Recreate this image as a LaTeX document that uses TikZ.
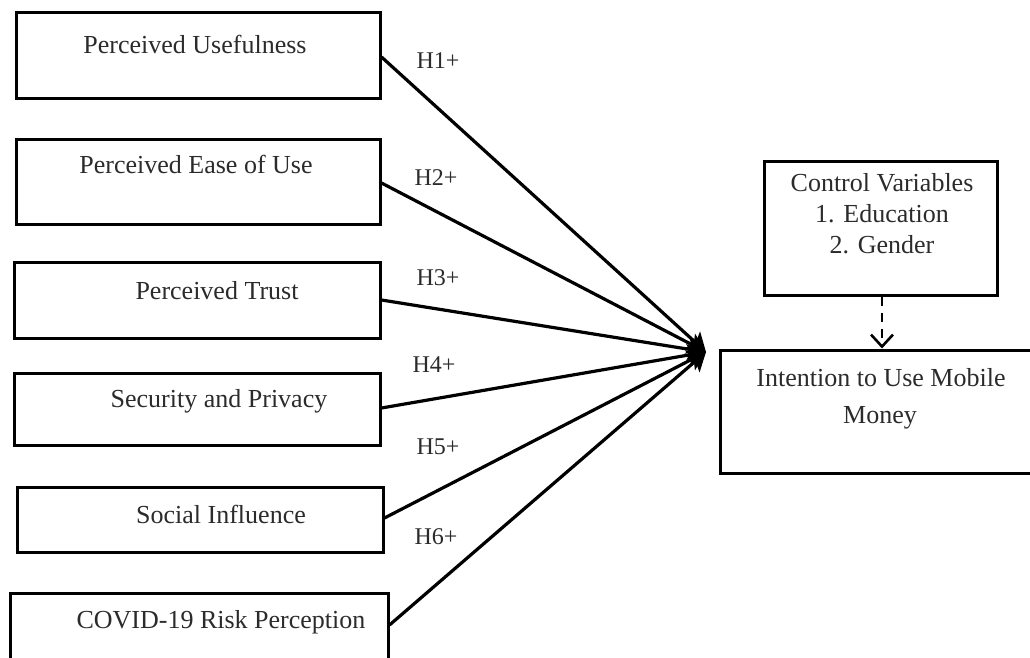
\documentclass[tikz,border=0pt]{standalone}
\usepackage{fontspec}
\setmainfont{Liberation Serif}
\usetikzlibrary{arrows.meta}
\definecolor{txt}{HTML}{2B2B2B}
\begin{document}
\begin{tikzpicture}[x=1pt,y=-1pt,
  box/.style={draw=black,line width=3pt,rectangle,inner sep=0pt},
  lbl/.style={text=txt,font=\fontsize{26}{31}\selectfont,inner sep=0pt,anchor=center},
  hyp/.style={text=txt,font=\fontsize{24}{28}\selectfont,inner sep=0pt,anchor=center},
  conn/.style={line width=3.2pt,-{Stealth[length=18pt,width=22pt,inset=4pt]}},
  ctrl/.style={line width=2.6pt,dash pattern=on 9pt off 7pt,-{Straight Barb[length=12pt,width=22pt]}}]
\useasboundingbox (0,0) rectangle (1030,658);
% boxes
\node[box,minimum width=364pt,minimum height=86pt] (pu) at (198,56) {};
\node[box,minimum width=364pt,minimum height=85pt] (peou) at (198,181.5) {};
\node[box,minimum width=366pt,minimum height=76pt] (pt) at (197,300) {};
\node[box,minimum width=366pt,minimum height=72pt] (sp) at (197,409) {};
\node[box,minimum width=366pt,minimum height=65pt] (si) at (200,519.5) {};
\node[box,minimum width=378pt,minimum height=90pt] (cr) at (199,638) {};
\node[box,minimum width=233pt,minimum height=134pt] (cv) at (880.5,228) {};
\node[box,minimum width=314pt,minimum height=123pt] (iu) at (877,411.5) {};
% texts
\node[lbl] (tpu) at (195,44) {Perceived Usefulness};
\node[lbl] (tpeou) at (196,164) {Perceived Ease of Use};
\node[lbl] (tpt) at (217,291) {Perceived Trust};
\node[lbl] (tsp) at (219,401) {Security and Privacy};
\node[lbl] (tsi) at (221,514) {Social Influence};
\node[lbl] (tcr) at (221,622) {COVID-19 Risk Perception};
\node[lbl] (tcv1) at (882,183) {Control Variables};
\node[lbl] (tcv2) at (882,214) {1. Education};
\node[lbl] (tcv3) at (882,245) {2. Gender};
\node[lbl] (tiu1) at (881,378) {Intention to Use Mobile};
\node[lbl] (tiu2) at (880,418) {Money};
% hypotheses
\node[hyp] (h1) at (438,61) {H1+};
\node[hyp] (h2) at (436,178) {H2+};
\node[hyp] (h3) at (438,278) {H3+};
\node[hyp] (h4) at (434,365) {H4+};
\node[hyp] (h5) at (438,447) {H5+};
\node[hyp] (h6) at (436,537) {H6+};
% connectors
\coordinate (tip) at (706,352);
\draw[conn] (pu.east |- 0,57) -- (tip);
\draw[conn] (peou.east |- 0,183) -- (tip);
\draw[conn] (pt.east |- 0,300) -- (tip);
\draw[conn] (sp.east |- 0,408) -- (tip);
\draw[conn] (si.east |- 0,518) -- (tip);
\draw[conn] (cr.east |- 0,625) -- (tip);
\draw[ctrl] (cv.south -| 882,0) -- (iu.north -| 882,0);
\end{tikzpicture}
\end{document}
